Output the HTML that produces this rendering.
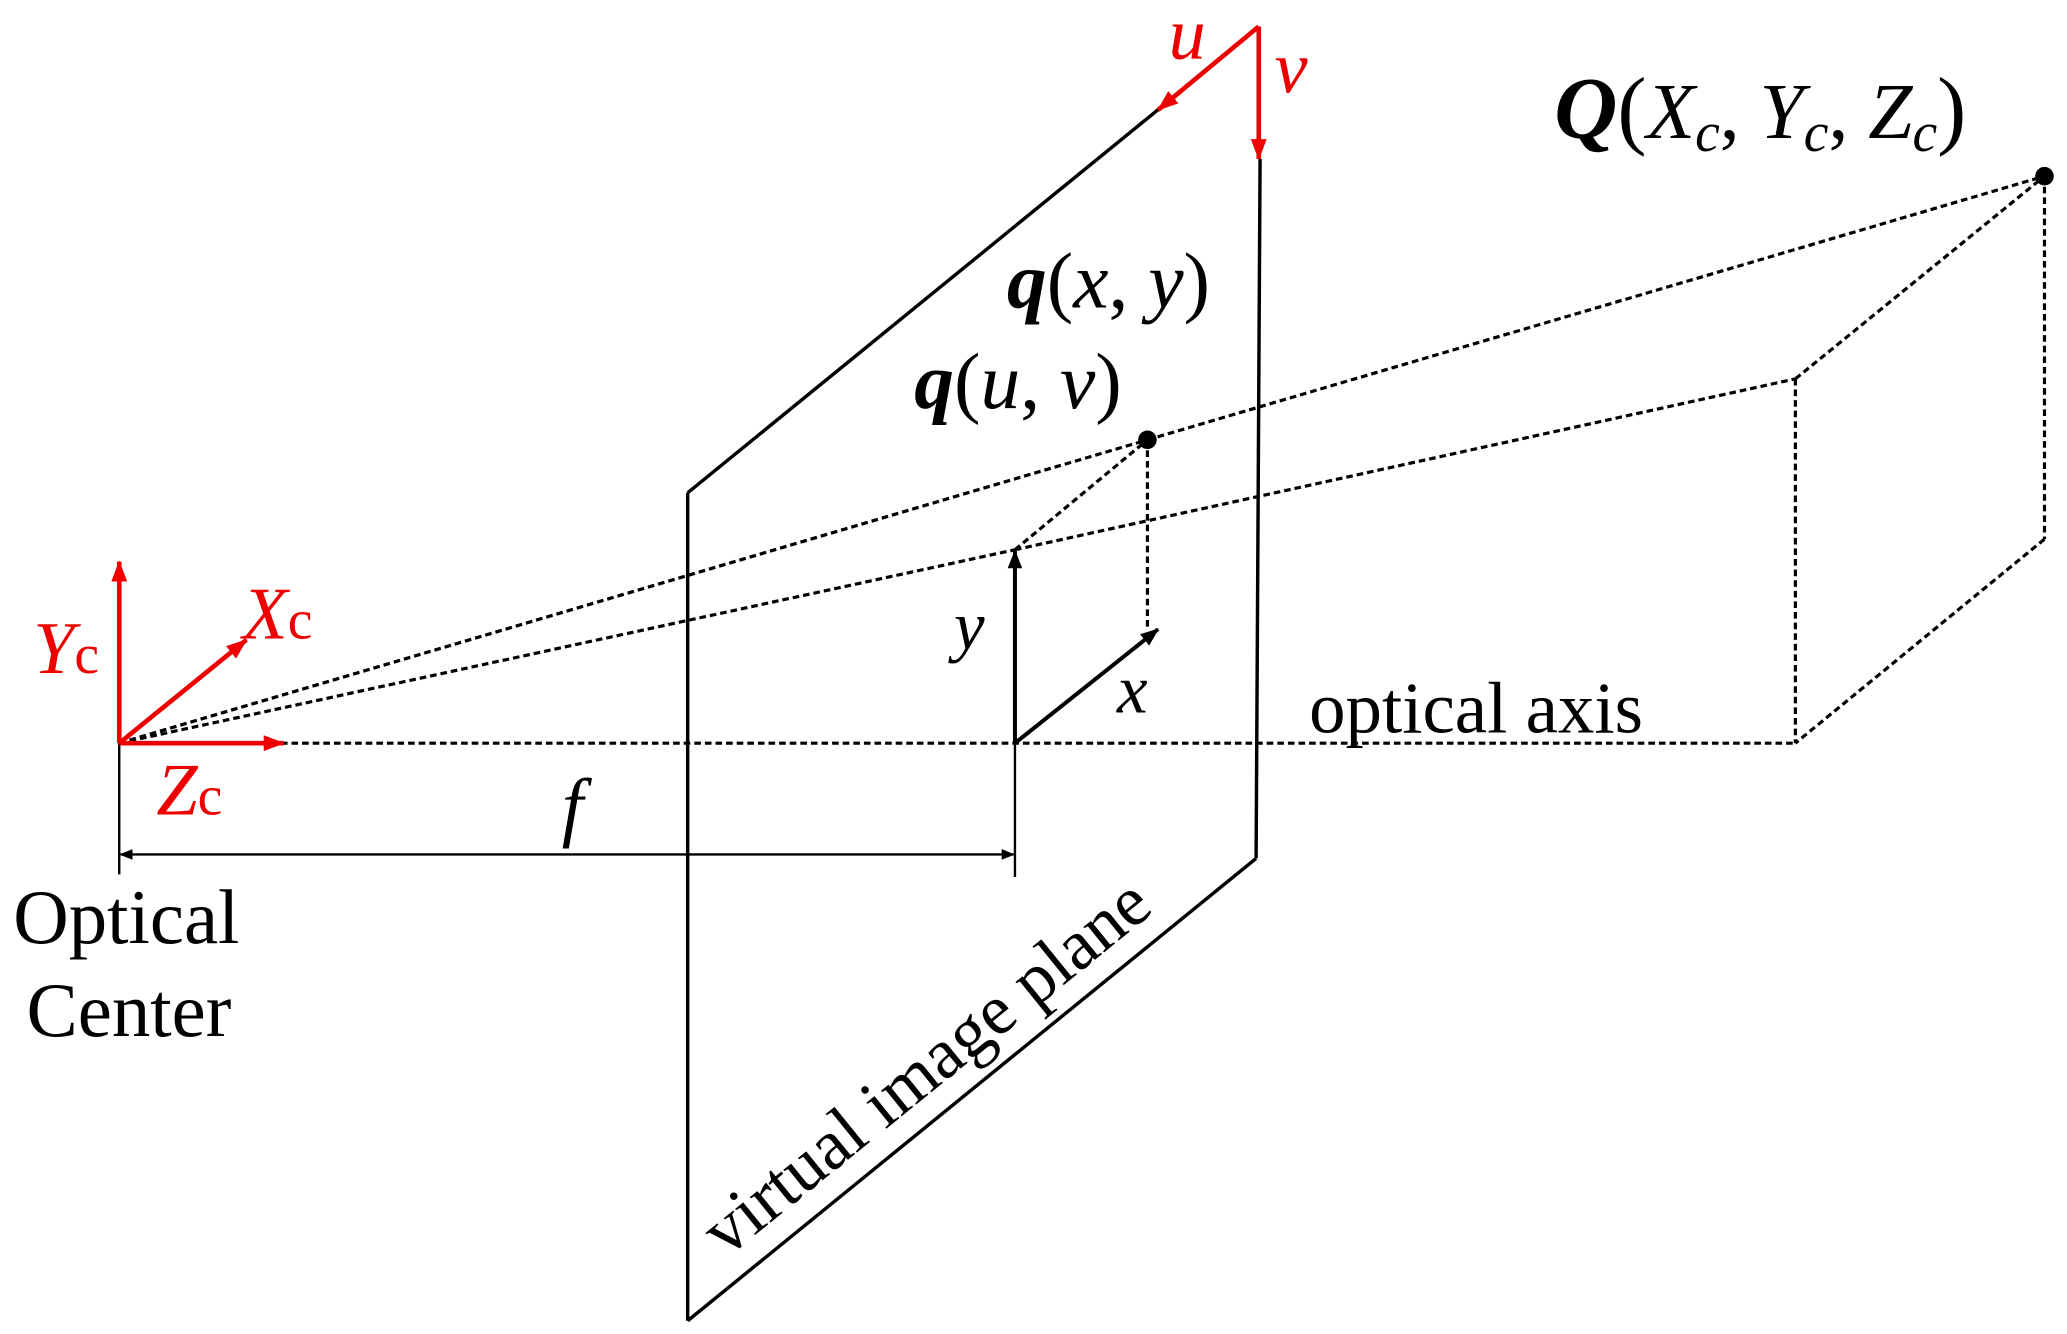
<!DOCTYPE html>
<html><head><meta charset="utf-8"><style>
html,body{margin:0;padding:0;background:#fff;}
svg{display:block;}
text{font-family:"Liberation Serif",serif;}
</style></head><body>
<svg width="2067" height="1334" viewBox="0 0 1560 1007" preserveAspectRatio="none" xmlns="http://www.w3.org/2000/svg">
<defs>
<marker id="ar" markerWidth="16" markerHeight="12" refX="15" refY="6" orient="auto" markerUnits="userSpaceOnUse"><path d="M0,0 L16,6 L0,12 z" fill="#e00"/></marker>
<marker id="ab" markerWidth="14" markerHeight="11" refX="13" refY="5.5" orient="auto" markerUnits="userSpaceOnUse"><path d="M0,0 L14,5.5 L0,11 z" fill="#000"/></marker>
<marker id="sb" markerWidth="10" markerHeight="8" refX="9" refY="4" orient="auto-start-reverse" markerUnits="userSpaceOnUse"><path d="M0,0 L10,4 L0,8 z" fill="#000"/></marker>
</defs>
<g stroke="#000" stroke-width="2.6" fill="none">
<line x1="519" y1="372" x2="519" y2="997"/>
<line x1="519" y1="372" x2="875" y2="82"/>
<line x1="951" y1="120" x2="948" y2="648"/>
<line x1="519" y1="997" x2="948" y2="648"/>
</g>
<g stroke="#000" stroke-width="2.4" fill="none" stroke-dasharray="5,3">
<line x1="212" y1="561" x2="1355" y2="561"/>
<line x1="90" y1="561" x2="866" y2="332"/>
<line x1="866" y1="332" x2="1543" y2="133"/>
<line x1="90" y1="561" x2="766" y2="415"/>
<line x1="766" y1="415" x2="1355" y2="286"/>
<line x1="766" y1="415" x2="866" y2="332"/>
<line x1="866" y1="332" x2="866" y2="476"/>
<line x1="1355" y1="286" x2="1543" y2="133"/>
<line x1="1355" y1="286" x2="1355" y2="561"/>
<line x1="1543" y1="133" x2="1543" y2="407"/>
<line x1="1543" y1="407" x2="1355" y2="561"/>
</g>
<g stroke="#000" stroke-width="3" fill="none">
<line x1="766" y1="561" x2="766" y2="416" marker-end="url(#ab)"/>
<line x1="766" y1="561" x2="874" y2="475" marker-end="url(#ab)"/>
</g>
<g stroke="#000" stroke-width="1.8" fill="none">
<line x1="90" y1="561" x2="90" y2="660"/>
<line x1="766" y1="561" x2="766" y2="662"/>
<line x1="91" y1="645" x2="765" y2="645" marker-start="url(#sb)" marker-end="url(#sb)"/>
</g>
<g stroke="#e00" stroke-width="3.5" fill="none">
<line x1="90" y1="561" x2="90" y2="424" marker-end="url(#ar)"/>
<line x1="90" y1="561" x2="186" y2="483" marker-end="url(#ar)"/>
<line x1="90" y1="561" x2="214" y2="561" marker-end="url(#ar)"/>
<line x1="950" y1="20" x2="874" y2="83" marker-end="url(#ar)"/>
<line x1="950" y1="20" x2="950" y2="120" marker-end="url(#ar)"/>
</g>
<circle cx="866" cy="332" r="7" fill="#000"/>
<circle cx="1543" cy="133" r="7" fill="#000"/>
<g fill="#e00" font-size="56">
<text x="25" y="508" font-style="italic">Y<tspan font-style="normal" font-size="42">c</tspan></text>
<text x="183" y="482" font-style="italic">X<tspan font-style="normal" font-size="42">c</tspan></text>
<text x="118" y="615" font-style="italic">Z<tspan font-style="normal" font-size="42">c</tspan></text>
<text x="882" y="44" font-style="italic">u</text>
<text x="962" y="70" font-style="italic">v</text>
</g>
<g fill="#000" font-size="60">
<text x="1173" y="104"><tspan font-weight="bold" font-style="italic" font-size="66">Q</tspan><tspan font-size="66">(</tspan><tspan font-style="italic">X<tspan font-size="42" dy="10">c</tspan></tspan><tspan dy="-10">, </tspan><tspan font-style="italic">Y<tspan font-size="42" dy="10">c</tspan></tspan><tspan dy="-10">, </tspan><tspan font-style="italic">Z<tspan font-size="42" dy="10">c</tspan></tspan><tspan dy="-10" font-size="66">)</tspan></text>
<text x="760" y="232"><tspan font-weight="bold" font-style="italic">q</tspan>(<tspan font-style="italic">x</tspan>, <tspan font-style="italic">y</tspan>)</text>
<text x="690" y="308"><tspan font-weight="bold" font-style="italic">q</tspan>(<tspan font-style="italic">u</tspan>, <tspan font-style="italic">v</tspan>)</text>
<text x="720" y="490" font-style="italic" font-size="52">y</text>
<text x="843" y="538" font-style="italic" font-size="52">x</text>
<text x="424" y="628" font-style="italic" font-size="58">f</text>
<text x="988" y="553" font-size="55">optical axis</text>
<text x="10" y="712" font-size="58">Optical</text>
<text x="20" y="782" font-size="58">Center</text>
<text x="548" y="950" font-size="54" transform="rotate(-39 548 950)">virtual image plane</text>
</g>
</svg>
</body></html>
